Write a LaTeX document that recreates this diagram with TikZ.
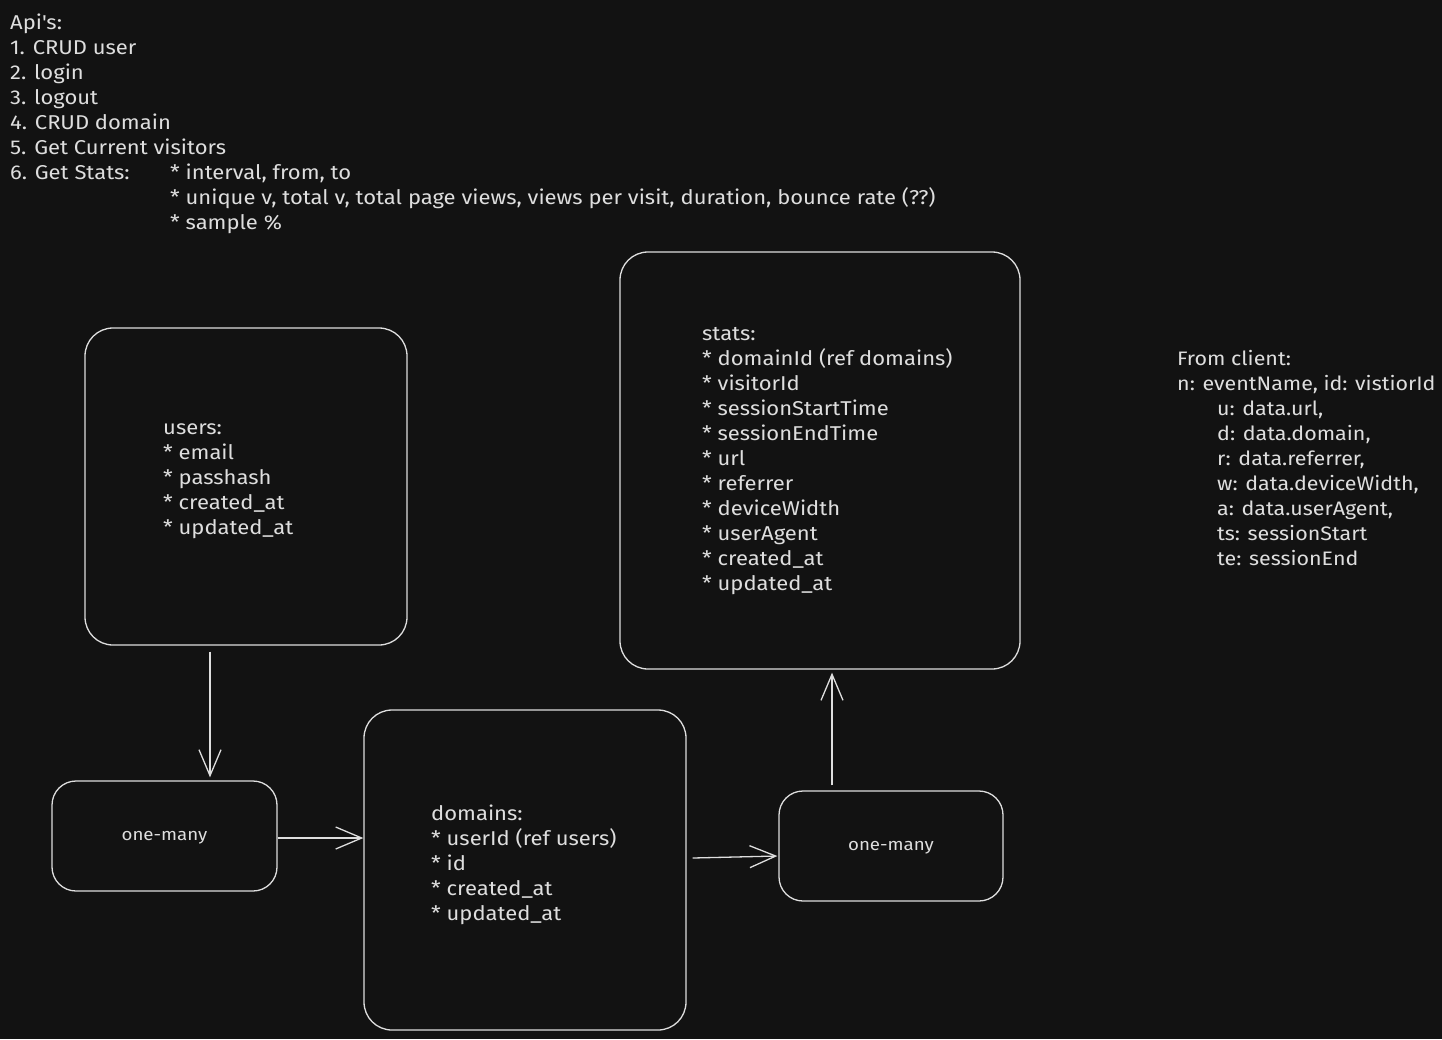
\documentclass[tikz,border=0pt]{standalone}
\usepackage{fontspec}
\setmainfont{Fira Sans}[FakeStretch=1.1]
\usetikzlibrary{calc,positioning,arrows.meta}
\definecolor{bg}{HTML}{121212}
\definecolor{ink}{HTML}{DEDEDE}

\begin{document}
\begin{tikzpicture}[x=1pt,y=-1pt]

     \tikzstyle{every node}=[text=ink,font=\fontsize{20}{25}\selectfont]
     \tikzstyle{box}=[draw=ink,line width=1.3pt,rounded corners=28pt]
     \tikzstyle{relbox}=[box,rounded corners=24pt,minimum width=225pt,minimum height=110pt,text depth=0pt,font=\fontsize{17}{20}\selectfont]
     \tikzstyle{txt}=[align=left,anchor=north west,inner sep=0pt]
     \tikzstyle{conn}=[draw=ink,line width=1.3pt,-{Straight Barb[length=26pt,width=22pt]}]
     \fill[bg](0,0)rectangle(1442,1039);
     \useasboundingbox(0,0)rectangle(1442,1039);

     % api list
     \node at (10,11.5)[txt](api){\strut Api\textquotesingle s:\\
       \strut 1. CRUD user\\
       \strut 2. login\\
       \strut 3. logout\\
       \strut 4. CRUD domain\\
       \strut 5. Get Current visitors\\
       \strut\makebox[160pt][l]{6. Get Stats:}* interval, from, to\\
       \strut\hspace*{160pt}* unique v, total v, total page views, views per visit, duration, bounce rate (??)\\
       \strut\hspace*{160pt}* sample \%};

     % tables
     \node at (246,486.5)[box,minimum width=322pt,minimum height=317pt](users){};
     \node at (820,460.5)[box,minimum width=400pt,minimum height=417pt](stats){};
     \node at (525,870)[box,minimum width=322pt,minimum height=320pt](domains){};
     \node at (163,416.5)[txt](userstxt){\strut users:\\
       \strut * email\\
       \strut * passhash\\
       \strut * created\_at\\
       \strut * updated\_at};
     \node at (702,322.5)[txt](statstxt){\strut stats:\\
       \strut * domainId (ref domains)\\
       \strut * visitorId\\
       \strut * sessionStartTime\\
       \strut * sessionEndTime\\
       \strut * url\\
       \strut * referrer\\
       \strut * deviceWidth\\
       \strut * userAgent\\
       \strut * created\_at\\
       \strut * updated\_at};
     \node at (431,802.5)[txt](domainstxt){\strut domains:\\
       \strut * userId (ref users)\\
       \strut * id\\
       \strut * created\_at\\
       \strut * updated\_at};

     % relations
     \node at (164.5,836)[relbox](rel1){one-many};
     \node at (891,846)[relbox,minimum width=224pt](rel2){one-many};

     \draw[conn]($(users.south)+(-36,6)$)--($(users.south |- rel1.north)+(-36,-3)$);
     \draw[conn]($(rel1.east)+(0,2)$)--($(rel1.east -| domains.west)+(0,2)$);
     \draw[conn]($(domains.east |- rel2.west)+(6,12)$)--($(rel2.west)+(-1,10)$);
     \draw[conn]($(stats.south |- rel2.north)+(12,-5)$)--($(stats.south)+(12,3)$);

     % client payload
     \node at (1177,347.5)[txt,font=\fontsize{19.5}{25}\selectfont](client){\strut From client:\\
       \strut n: eventName, id: vistiorId\\
       \strut\hspace*{40pt}u: data.url,\\
       \strut\hspace*{40pt}d: data.domain,\\
       \strut\hspace*{40pt}r: data.referrer,\\
       \strut\hspace*{40pt}w: data.deviceWidth,\\
       \strut\hspace*{40pt}a: data.userAgent,\\
       \strut\hspace*{40pt}ts: sessionStart\\
       \strut\hspace*{40pt}te: sessionEnd};

\end{tikzpicture}
\end{document}
